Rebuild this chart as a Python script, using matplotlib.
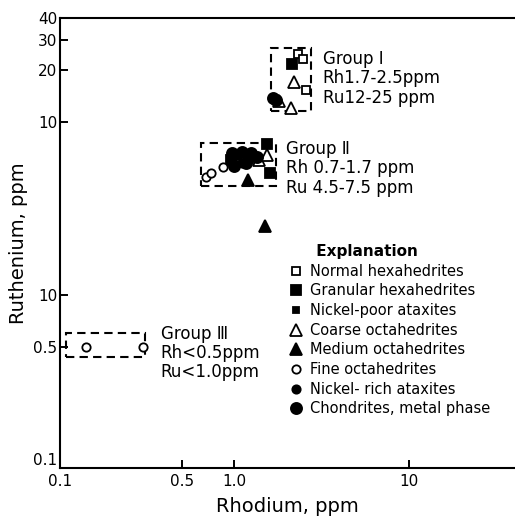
import matplotlib
matplotlib.use("Agg")
import matplotlib.pyplot as plt
from matplotlib.patches import Rectangle
from matplotlib.ticker import FixedLocator, FixedFormatter, NullLocator

plt.rcParams['font.family'] = ['DejaVu Sans']

# ---- data (Rh ppm, Ru ppm) ----
normal_hex_rh = [2.32, 2.48, 2.57]
normal_hex_ru = [24.7, 23.1, 15.3]
granular_hex_rh = [2.14, 1.53, 1.60, 0.95]
granular_hex_ru = [21.8, 7.46, 5.09, 6.0]
nipoor_atax_rh = [1.05, 1.22]
nipoor_atax_ru = [6.3, 6.0]
coarse_oct_rh = [2.20, 1.81, 2.11, 1.39, 1.53]
coarse_oct_ru = [17.1, 13.3, 12.0, 6.03, 6.44]
medium_oct_rh = [1.19, 1.50]
medium_oct_ru = [4.62, 2.50]
fine_oct_rh = [0.683, 0.736, 0.86, 0.141, 0.298]
fine_oct_ru = [4.79, 5.09, 5.5, 0.5, 0.5]
nirich_atax_rh = [1.10, 1.25]
nirich_atax_ru = [5.8, 6.4]
chondrite_rh = [1.67, 1.74, 0.97, 1.0, 1.11, 1.17, 1.25, 1.34]
chondrite_ru = [13.7, 13.5, 6.6, 5.6, 6.7, 5.8, 6.6, 6.3]

x_ticks = [0.1, 0.5, 1.0, 10]
x_tick_labels = ["0.1", "0.5", "1.0", "10"]
y_ticks = [0.1, 0.5, 1.0, 10, 20, 30, 40]
y_tick_labels = ["0.1", "0.5", "10", "10", "20", "30", "40"]

# group boxes: (rh_min, rh_max, ru_min, ru_max)
group1_box = (1.62, 2.75, 11.6, 27.0)
group2_box = (0.645, 1.73, 4.3, 7.6)
group3_box = (0.108, 0.306, 0.44, 0.60)

fig = plt.figure(figsize=(5.15, 5.18), dpi=100)
ax = fig.add_axes([60/515, 50/518, 454/515, 450/518])
ax.set_xscale('log')
ax.set_yscale('log')
ax.set_xlim(0.1, 40)
ax.set_ylim(0.1, 40)

ax.spines['right'].set_visible(False)
for s in ['left', 'bottom', 'top']:
    ax.spines[s].set_linewidth(1.5)

ax.xaxis.set_major_locator(FixedLocator(x_ticks))
ax.xaxis.set_major_formatter(FixedFormatter(x_tick_labels))
ax.xaxis.set_minor_locator(NullLocator())
ax.yaxis.set_major_locator(FixedLocator(y_ticks))
ax.yaxis.set_major_formatter(FixedFormatter(y_tick_labels))
ax.yaxis.set_minor_locator(NullLocator())
ax.tick_params(direction='in', length=6, width=1.4, labelsize=11, pad=2)
ax.tick_params(axis='x', pad=4)
ax.yaxis.get_major_ticks()[0].label1.set_va('bottom')

ax.set_xlabel("Rhodium, ppm", fontsize=14, labelpad=6)
ax.set_ylabel("Ruthenium, ppm", fontsize=14, labelpad=4)

k = dict(color='black', linestyle='none', mew=1.3)
series = [
    (normal_hex_rh, normal_hex_ru, dict(marker='s', ms=6, mfc='white'), "Normal hexahedrites"),
    (granular_hex_rh, granular_hex_ru, dict(marker='s', ms=7, mfc='black'), "Granular hexahedrites"),
    (nipoor_atax_rh, nipoor_atax_ru, dict(marker='s', ms=5, mfc='black'), "Nickel-poor ataxites"),
    (coarse_oct_rh, coarse_oct_ru, dict(marker='^', ms=8, mfc='white'), "Coarse octahedrites"),
    (medium_oct_rh, medium_oct_ru, dict(marker='^', ms=9, mfc='black'), "Medium octahedrites"),
    (fine_oct_rh, fine_oct_ru, dict(marker='o', ms=6, mfc='white'), "Fine octahedrites"),
    (nirich_atax_rh, nirich_atax_ru, dict(marker='o', ms=6, mfc='black'), "Nickel- rich ataxites"),
    (chondrite_rh, chondrite_ru, dict(marker='o', ms=8, mfc='black'), "Chondrites, metal phase"),
]
handles = []
for xs, ys, st, lab in series:
    ln, = ax.plot(xs, ys, label=lab, clip_on=False, **k, **st)
    handles.append(ln)

for (x0, x1, y0, y1) in [group1_box, group2_box, group3_box]:
    ax.add_patch(Rectangle((x0, y0), x1 - x0, y1 - y0, fill=False,
                           edgecolor='black', linewidth=1.5, linestyle=(0, (4, 2.5))))

ax.text(3.2, 17.9, "Group Ⅰ\nRh1.7-2.5ppm\nRu12-25 ppm", fontsize=12,
        va='center', ha='left', linespacing=1.1)
ax.text(1.98, 5.42, "Group Ⅱ\nRh 0.7-1.7 ppm\nRu 4.5-7.5 ppm", fontsize=12,
        va='center', ha='left', linespacing=1.1)
ax.text(0.378, 0.462, "Group Ⅲ\nRh<0.5ppm\nRu<1.0ppm", fontsize=12,
        va='center', ha='left', linespacing=1.1)

leg = ax.legend(handles=handles, loc='upper left', bbox_to_anchor=(290/515, 1 - 244/518),
                bbox_transform=fig.transFigure, frameon=False, fontsize=10.5,
                title="     Explanation", handlelength=0.8, handletextpad=0.6,
                labelspacing=0.32, borderpad=0, borderaxespad=0)
leg.get_title().set_fontweight('bold')
leg.get_title().set_fontsize(11)
leg._legend_box.align = "left"

fig.savefig("out.png", dpi=100)
